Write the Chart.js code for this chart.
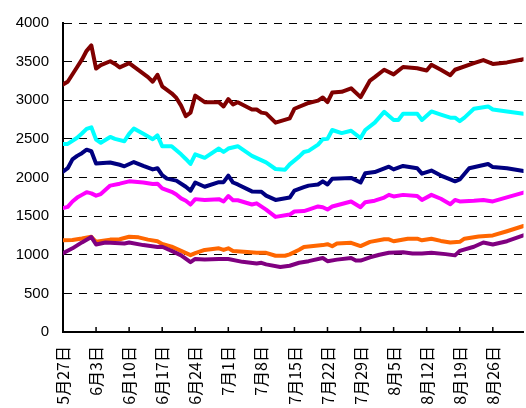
<!DOCTYPE html>
<html>
<head>
<meta charset="utf-8">
<script src="https://cdn.jsdelivr.net/npm/chart.js@4"></script>
<style>
html,body{margin:0;padding:0;background:#fff;}
canvas{display:block;}
</style>
</head>
<body>
<canvas id="c" width="526" height="408"></canvas>
<script>
// x tick labels (one per week, day 0 = 5月27日)
const tickLabels = ['5月27日','6月3日','6月10日','6月17日','6月24日','7月1日','7月8日','7月15日','7月22日','7月29日','8月5日','8月12日','8月19日','8月26日'];

// series: day offsets and values
const redDays = [0,1,3,4,5,6,7,8,10,11,12,14,16,18,19,20,21,23,24,25,26,27,28,30,33,34,35,36,37,40,41,42,43,45,48,49,52,54,55,56,57,59,61,63,65,66,68,70,72,75,77,78,80,82,83,87,89,91,94,97.5];
const redVals = [3205,3240,3430,3525,3640,3710,3410,3455,3505,3470,3425,3480,3390,3300,3240,3330,3180,3090,3030,2930,2795,2840,3060,2975,2975,2920,3015,2945,2975,2880,2880,2840,2830,2710,2765,2890,2965,2995,3035,2975,3100,3110,3155,3040,3255,3300,3395,3335,3430,3415,3385,3460,3395,3325,3395,3480,3520,3470,3490,3530];

const cyanDays = [0,1,3,4,5,6,7,8,10,11,13,14,15,17,19,20,21,23,25,26,27,28,30,33,34,35,37,40,43,45,47,48,50,51,52,54,55,56,57,59,61,63,64,66,68,70,71,72,75,76,78,80,82,83,84,85,87,90,91,94,97.5];
const cyanVals = [2435,2435,2515,2570,2630,2650,2490,2450,2525,2500,2470,2565,2635,2565,2495,2545,2405,2405,2300,2240,2175,2300,2255,2375,2330,2375,2405,2280,2195,2110,2100,2170,2270,2330,2345,2425,2495,2500,2615,2575,2605,2510,2615,2710,2850,2745,2745,2825,2825,2745,2855,2815,2775,2775,2730,2775,2890,2920,2880,2855,2825];

const navyDays = [0,1,2,3,4,5,6,7,10,12,13,15,17,19,20,21,22,24,26,27,28,30,33,34,35,36,37,40,42,43,45,48,49,51,52,54,55,56,57,61,63,64,66,69,70,72,75,76,78,80,82,83,84,86,90,91,94,97.5];
const navyVals = [2075,2120,2235,2280,2315,2360,2340,2180,2195,2165,2145,2200,2150,2105,2120,2030,1985,1960,1880,1830,1935,1880,1940,1940,2025,1935,1910,1820,1815,1765,1710,1740,1830,1875,1895,1910,1950,1910,1985,1995,1935,2055,2070,2140,2105,2150,2120,2050,2090,2025,1975,1950,1975,2120,2175,2135,2120,2085];

const magentaDays = [0,1,2,3,4,5,6,7,8,10,12,14,17,19,20,21,23,24,25,26,27,28,30,33,34,35,36,37,40,41,43,45,48,49,51,52,54,55,56,57,61,63,64,66,68,69,70,72,75,76,78,80,82,83,84,87,89,91,97.5];
const magentaVals = [1605,1620,1690,1740,1775,1810,1795,1765,1785,1895,1920,1950,1935,1915,1920,1860,1815,1780,1730,1700,1650,1720,1710,1720,1690,1760,1705,1705,1650,1665,1585,1490,1520,1560,1565,1585,1625,1615,1585,1625,1690,1615,1680,1700,1740,1775,1755,1775,1760,1710,1775,1725,1655,1710,1690,1700,1710,1690,1805];

const orangeDays = [0,2,4,6,7,10,12,14,16,18,20,21,23,25,27,28,30,33,34,35,36,39,41,43,45,47,48,50,51,55,56,57,58,61,63,65,68,69,70,73,75,76,78,80,82,84,85,88,91,94,97.5];
const orangeVals = [1187,1190,1210,1233,1167,1196,1200,1233,1225,1196,1175,1140,1105,1050,995,1020,1062,1083,1062,1083,1050,1037,1025,1025,987,987,1005,1065,1100,1125,1137,1110,1146,1154,1112,1167,1200,1200,1175,1208,1208,1187,1208,1179,1158,1167,1208,1237,1250,1304,1372];

const purpleDays = [0,2,4,6,7,9,13,14,17,20,21,23,25,27,28,30,33,35,38,41,42,43,46,48,50,52,55,56,58,61,62,63,65,67,69,72,74,76,78,81,83,84,87,89,91,94,97.5];
const purpleVals = [1021,1083,1160,1229,1133,1158,1146,1158,1125,1100,1104,1050,992,905,946,937,946,946,908,887,896,875,842,858,896,917,958,917,937,958,925,925,967,1000,1025,1033,1017,1017,1025,1008,992,1050,1104,1158,1133,1175,1252];

// axis settings
const yMax = 4000, yStep = 500, xMax = 97.5, xStep = 7;

function pts(days, vals){ return days.map((d,i)=>({x:d,y:vals[i]})); }

function ds(days, vals, color){
  return {data: pts(days, vals), borderColor: color, backgroundColor: color,
          borderWidth: 4, pointRadius: 0, tension: 0, fill: false,
          borderJoinStyle: 'round', borderCapStyle: 'round'};
}

// short tick marks pointing up into the plot from the x axis
const innerTicks = {
  id: 'innerTicks',
  afterDatasetsDraw(chart){
    const xs = chart.scales.x, ctx = chart.ctx;
    const b = chart.chartArea.bottom;
    ctx.save();
    ctx.strokeStyle = '#000000';
    ctx.lineWidth = 1.5;
    xs.ticks.forEach(t => {
      const px = xs.getPixelForValue(t.value);
      ctx.beginPath();
      ctx.moveTo(px, b);
      ctx.lineTo(px, b - 5);
      ctx.stroke();
    });
    ctx.restore();
  }
};

new Chart(document.getElementById('c'), {
  type: 'line',
  data: {
    datasets: [
      ds(redDays, redVals, '#800000'),
      ds(cyanDays, cyanVals, '#00FFFF'),
      ds(navyDays, navyVals, '#000080'),
      ds(magentaDays, magentaVals, '#FF00FF'),
      ds(purpleDays, purpleVals, '#800080'),
      ds(orangeDays, orangeVals, '#FF6600')
    ]
  },
  options: {
    responsive: false,
    devicePixelRatio: 1,
    animation: false,
    layout: {padding: {top: 15, right: 0, bottom: 0, left: 0}},
    plugins: {legend: {display: false}, tooltip: {enabled: false}},
    scales: {
      x: {
        type: 'linear',
        min: 0,
        max: xMax,
        grid: {display: false, drawTicks: false},
        border: {display: true, color: '#000', width: 2},
        afterFit: s => { s.height = 76; },
        ticks: {
          stepSize: xStep,
          includeBounds: false,
          autoSkip: false,
          minRotation: 90,
          maxRotation: 90,
          padding: 14,
          color: '#000',
          font: {family: '"Noto Sans CJK JP", sans-serif', size: 16},
          callback: v => tickLabels[Math.round(v / xStep)] || ''
        }
      },
      y: {
        type: 'linear',
        min: 0,
        max: yMax,
        afterFit: s => { s.width = 63; },
        grid: {display: true, drawOnChartArea: true, drawTicks: false, color: '#000000', lineWidth: 1},
        border: {display: true, color: '#000', width: 2, dash: [8, 7]},
        ticks: {
          stepSize: yStep,
          padding: 14,
          color: '#000',
          font: {family: '"Liberation Sans", Arial, sans-serif', size: 15},
          callback: v => String(v)
        }
      }
    }
  },
  plugins: [innerTicks]
});
</script>
</body>
</html>
